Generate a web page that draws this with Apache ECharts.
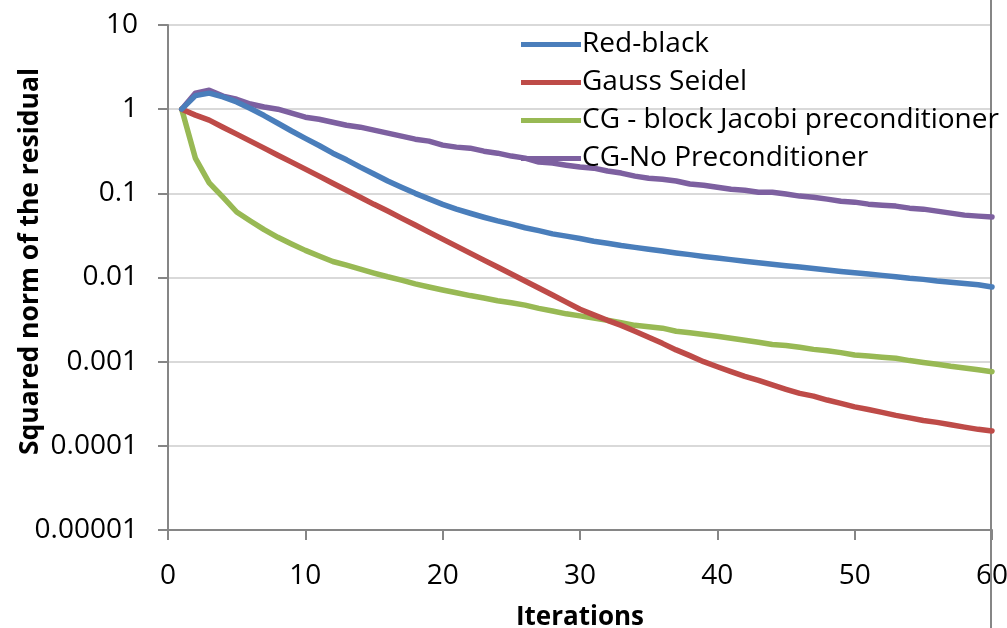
<!DOCTYPE html>
<html>
<head>
<meta charset="utf-8">
<script src="https://cdn.jsdelivr.net/npm/echarts@6/dist/echarts.min.js"></script>
<style>
html,body{margin:0;padding:0;background:#fff;}
#chart{width:1007px;height:628px;}
</style>
</head>
<body>
<div id="chart"></div>
<script>
const iterations = [1,2,3,4,5,6,7,8,9,10,11,12,13,14,15,16,17,18,19,20,21,22,23,24,25,26,27,28,29,30,31,32,33,34,35,36,37,38,39,40,41,42,43,44,45,46,47,48,49,50,51,52,53,54,55,56,57,58,59,60];

const redBlack = [1,1.45,1.55,1.4,1.22,1.02,0.84,0.68,0.55,0.45,0.37,0.30,0.25,0.205,0.17,0.14,0.118,0.1,0.086,0.074,0.065,0.058,0.052,0.047,0.043,0.039,0.036,0.033,0.031,0.029,0.027,0.0255,0.024,0.0228,0.0217,0.0206,0.0196,0.0187,0.0178,0.017,0.0163,0.0156,0.015,0.0144,0.0138,0.0133,0.0128,0.0123,0.0118,0.0114,0.011,0.0106,0.0102,0.0098,0.0095,0.0091,0.0088,0.0085,0.0082,0.0077];

const gaussSeidel = [1,0.85,0.74,0.61,0.505,0.417,0.344,0.284,0.235,0.194,0.16,0.132,0.109,0.090,0.074,0.0616,0.0508,0.042,0.0346,0.0286,0.0236,0.0195,0.0161,0.0133,0.011,0.0091,0.0075,0.0062,0.0051,0.0042,0.0036,0.0031,0.0027,0.0023,0.00195,0.00165,0.00138,0.00118,0.001,0.00087,0.00076,0.00067,0.0006,0.00053,0.00047,0.00042,0.00039,0.00035,0.00032,0.00029,0.00027,0.00025,0.00023,0.000215,0.0002,0.00019,0.000178,0.000167,0.000157,0.00015];

const cgBlockJacobi = [1,0.26,0.133,0.09,0.06,0.047,0.037,0.030,0.025,0.021,0.018,0.0155,0.014,0.0126,0.0113,0.0102,0.0093,0.0084,0.0077,0.0071,0.0066,0.0061,0.0057,0.0053,0.005,0.0047,0.0043,0.004,0.0037,0.0035,0.0033,0.0031,0.0029,0.0027,0.0026,0.0025,0.0023,0.0022,0.0021,0.002,0.0019,0.0018,0.0017,0.0016,0.00156,0.00148,0.0014,0.00135,0.00128,0.0012,0.00117,0.00113,0.0011,0.00103,0.00098,0.00093,0.00088,0.00084,0.0008,0.00076];

const cgNoPrecond = [1,1.55,1.68,1.43,1.31,1.15,1.06,1.0,0.896,0.803,0.76,0.70,0.645,0.611,0.563,0.519,0.478,0.44,0.417,0.374,0.354,0.344,0.317,0.30,0.277,0.262,0.235,0.229,0.216,0.205,0.199,0.184,0.174,0.16,0.151,0.147,0.14,0.129,0.125,0.118,0.112,0.109,0.103,0.103,0.098,0.0927,0.090,0.0853,0.0807,0.0786,0.0744,0.0724,0.0705,0.0667,0.0649,0.0615,0.0582,0.0551,0.0536,0.0522];

const seriesNames = ['Red-black','Gauss Seidel','CG - block Jacobi preconditioner','CG-No Preconditioner'];
const seriesValues = [redBlack, gaussSeidel, cgBlockJacobi, cgNoPrecond];
const seriesColors = ['#4A7EBB','#BE4B48','#98B954','#7D60A0'];
const yTickLabels = ['10','1','0.1','0.01','0.001','0.0001','0.00001'];

const FONT = '"Open Sans", sans-serif';
const chart = echarts.init(document.getElementById('chart'));

const option = {
  animation: false,
  backgroundColor: '#ffffff',
  grid: {left: 168, right: 15, top: 25, bottom: 98, containLabel: false, outerBoundsMode: 'none'},
  legend: {
    orient: 'vertical',
    left: 516,
    top: 24,
    icon: 'rect',
    itemWidth: 60,
    itemHeight: 5,
    itemGap: 7,
    data: seriesNames,
    textStyle: {fontFamily: FONT, fontSize: 28, color: '#000', lineHeight: 31, padding: [0,0,0,-4]}
  },
  xAxis: {
    type: 'value',
    min: 0, max: 60, interval: 10,
    name: 'Iterations',
    nameLocation: 'middle',
    nameGap: 75,
    nameMoveOverlap: false,
    nameTextStyle: {fontFamily: FONT, fontSize: 26, fontWeight: 'bold', color: '#000'},
    axisLine: {show: true, lineStyle: {color: '#868686', width: 2}},
    axisTick: {show: true, inside: false, length: 10, lineStyle: {color: '#868686', width: 2}},
    axisLabel: {fontFamily: FONT, fontSize: 28, color: '#000', margin: 32},
    splitLine: {show: false}
  },
  yAxis: {
    type: 'log',
    logBase: 10,
    min: 0.00001, max: 10,
    name: 'Squared norm of the residual',
    nameLocation: 'middle',
    nameGap: 124,
    nameMoveOverlap: false,
    nameTextStyle: {fontFamily: FONT, fontSize: 26.5, fontWeight: 'bold', color: '#000', padding: [0,0,0,32]},
    axisLine: {show: true, lineStyle: {color: '#868686', width: 2}},
    axisTick: {show: true, inside: false, length: 10, lineStyle: {color: '#868686', width: 2}},
    axisLabel: {
      fontFamily: FONT, fontSize: 28, color: '#000', margin: 30,
      formatter: function (v) {
        for (let i = 0; i < yTickLabels.length; i++) {
          if (Math.abs(Number(yTickLabels[i]) - v) / v < 1e-6) return yTickLabels[i];
        }
        return '';
      }
    },
    splitLine: {show: true, lineStyle: {color: '#D9D9D9', width: 2}},
    minorTick: {show: false}
  },
  series: seriesNames.map(function (name, i) {
    return {
      name: name,
      type: 'line',
      data: iterations.map(function (x, j) { return [x, seriesValues[i][j]]; }),
      showSymbol: false,
      symbol: 'none',
      smooth: false,
      color: seriesColors[i],
      lineStyle: {width: 5.5, color: seriesColors[i], cap: 'round', join: 'round'},
      z: 2 + (seriesNames.length - i)
    };
  })
};
chart.setOption(option);

const xr = chart.convertToPixel({xAxisIndex: 0}, 60);
chart.setOption({
  graphic: [{
    type: 'line',
    shape: {x1: xr - 1, y1: 0, x2: xr - 1, y2: 628},
    style: {stroke: '#868686', lineWidth: 2},
    z: 1
  }]
});
</script>
</body>
</html>
